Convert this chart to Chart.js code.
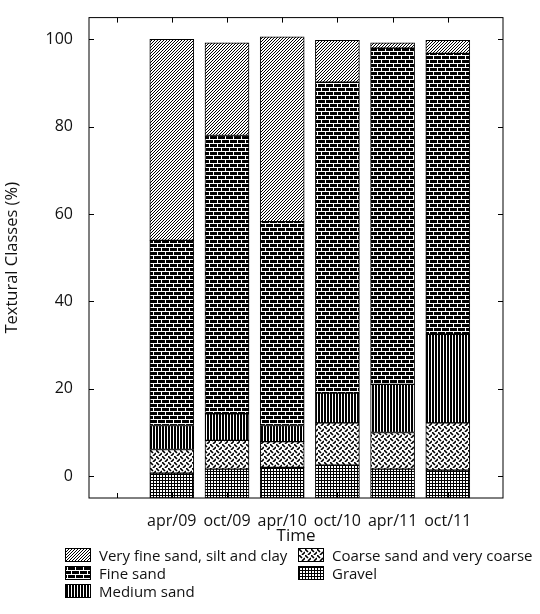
<!DOCTYPE html>
<html>
<head>
<meta charset="utf-8">
<script src="https://cdn.jsdelivr.net/npm/chart.js@4"></script>
<style>
  body { margin: 0; background: #fff; font-family: "Open Sans", sans-serif; }
  #wrap { position: relative; width: 540px; height: 546px; }
  #legend { position: absolute; top: 545px; left: 0; width: 540px; font-size: 15px; color: #111; }
  .item { position: absolute; display: flex; align-items: center; }
  .item canvas { border: 1px solid #000; margin-right: 8px; }
</style>
</head>
<body>
<div id="wrap"><canvas id="chart" width="540" height="546"></canvas></div>
<div id="legend"></div>
<script>
const categories = ['apr/09', 'oct/09', 'apr/10', 'oct/10', 'apr/11', 'oct/11'];
const classes = ['Gravel', 'Coarse sand and very coarse', 'Medium sand', 'Fine sand', 'Very fine sand, silt and clay'];
// cumulative top of each class, per sample (%)
const gravelTop = [0.7, 1.6, 2.0, 2.5, 1.6, 1.4];
const coarseTop = [6.1, 8.2, 7.9, 12.2, 10.0, 12.2];
const mediumTop = [11.6, 14.3, 11.6, 19.0, 21.0, 32.5];
const fineTop = [54.0, 78.0, 58.3, 90.2, 98.0, 96.8];
const totalTop = [100.0, 99.2, 100.6, 99.8, 99.2, 99.8];
const yTicks = [0, 20, 40, 60, 80, 100];
const axisBase = -5;

function makePattern(kind) {
  const c = document.createElement('canvas');
  const s = kind === 'brick' ? 8 : 6;
  c.width = s; c.height = s;
  const g = c.getContext('2d');
  g.fillStyle = '#fff'; g.fillRect(0, 0, s, s);
  g.strokeStyle = '#000'; g.fillStyle = '#000'; g.lineWidth = 1;
  if (kind === 'diag') {
    g.beginPath();
    for (let i = -s; i <= s; i += 3) { g.moveTo(i, s); g.lineTo(i + s, 0); }
    g.stroke();
  } else if (kind === 'brick') {
    g.fillRect(0, 0, 8, 8);
    g.fillStyle = '#fff';
    g.fillRect(0, 3, 8, 1); g.fillRect(0, 7, 8, 1);
    g.fillRect(1, 0, 1, 3); g.fillRect(5, 4, 1, 3);
  } else if (kind === 'vert') {
    g.fillRect(0, 0, 2, s); g.fillRect(3, 0, 2, s);
  } else if (kind === 'weave') {
    g.lineWidth = 1.6;
    g.beginPath();
    g.moveTo(0, 0); g.lineTo(3, 3);
    g.moveTo(3, 6); g.lineTo(6, 3);
    g.stroke();
  } else if (kind === 'grid') {
    g.fillRect(0, 0, s, 1); g.fillRect(0, 3, s, 1);
    g.fillRect(0, 0, 1, s); g.fillRect(3, 0, 1, s);
  }
  return g.createPattern(c, 'repeat');
}

const kinds = ['grid', 'weave', 'vert', 'brick', 'diag'];
const lows = [categories.map(() => axisBase), gravelTop, coarseTop, mediumTop, fineTop];
const highs = [gravelTop, coarseTop, mediumTop, fineTop, totalTop];

const datasets = classes.map((name, k) => ({
  label: name,
  data: categories.map((_, i) => ({ x: i + 1, y: [lows[k][i], highs[k][i]] })),
  backgroundColor: makePattern(kinds[k]),
  borderColor: '#000',
  borderWidth: 1,
  borderSkipped: false,
  barThickness: 44,
  grouped: false
}));

const innerTicks = {
  id: 'innerTicks',
  afterDraw(chart) {
    const { ctx, chartArea: a, scales } = chart;
    ctx.save();
    ctx.strokeStyle = '#000'; ctx.lineWidth = 1;
    ctx.strokeRect(a.left, a.top, a.right - a.left, a.bottom - a.top);
    ctx.beginPath();
    yTicks.forEach(v => {
      const y = Math.round(scales.y.getPixelForValue(v)) + 0.5;
      ctx.moveTo(a.left, y); ctx.lineTo(a.left + 5, y);
      ctx.moveTo(a.right, y); ctx.lineTo(a.right - 5, y);
    });
    for (let i = 0; i <= categories.length; i++) {
      const x = Math.round(scales.x.getPixelForValue(i)) + 0.5;
      ctx.moveTo(x, a.top); ctx.lineTo(x, a.top + 5);
      ctx.moveTo(x, a.bottom); ctx.lineTo(x, a.bottom - 5);
    }
    ctx.stroke();
    ctx.restore();
  }
};

new Chart(document.getElementById('chart'), {
  type: 'bar',
  data: { datasets },
  plugins: [innerTicks],
  options: {
    responsive: false,
    animation: false,
    layout: { padding: { top: 5, right: 37, left: 0, bottom: 0 } },
    plugins: { legend: { display: false }, tooltip: { enabled: false } },
    scales: {
      x: {
        type: 'linear', min: -0.5, max: 7, offset: false,
        grid: { display: false },
        border: { display: false },
        afterBuildTicks: s => { s.ticks = categories.map((_, i) => ({ value: i + 1 })); },
        afterFit: s => { s.height = 48; },
        ticks: {
          autoSkip: false, maxRotation: 0, padding: 6,
          color: '#111', font: { family: 'Open Sans', size: 16 },
          callback: v => categories[v - 1]
        },
        title: { display: true, text: 'Time', color: '#111', padding: { top: 0, bottom: 0 }, font: { family: 'Open Sans', size: 17 } }
      },
      y: {
        min: axisBase, max: 105,
        grid: { display: false },
        border: { display: false },
        afterBuildTicks: s => { s.ticks = yTicks.map(v => ({ value: v })); },
        afterFit: s => { s.width = 89; },
        ticks: { padding: 8, color: '#111', font: { family: 'Open Sans', size: 16 } },
        title: { display: true, text: 'Textural Classes (%)', color: '#111', padding: 2, font: { family: 'Open Sans', size: 16.5 } }
      }
    }
  }
});

// legend, two columns as in the figure
const legendOrder = [4, 3, 2, 1, 0];
const legendPos = [[65, 0], [65, 18], [65, 36], [298, 0], [298, 18]];
const legend = document.getElementById('legend');
legendOrder.forEach((k, j) => {
  const item = document.createElement('div');
  item.className = 'item';
  item.style.left = legendPos[j][0] + 'px';
  item.style.top = legendPos[j][1] + 'px';
  const sw = document.createElement('canvas');
  sw.width = 24; sw.height = 12;
  const g = sw.getContext('2d');
  g.fillStyle = makePattern(kinds[k]); g.fillRect(0, 0, 24, 12);
  item.appendChild(sw);
  item.appendChild(document.createTextNode(classes[k]));
  legend.appendChild(item);
});
</script>
</body>
</html>
